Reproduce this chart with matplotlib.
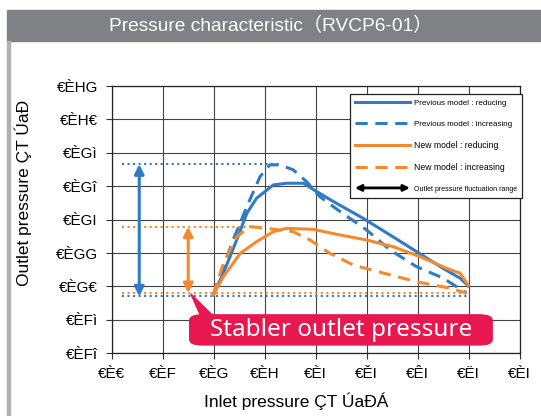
import matplotlib
matplotlib.use('Agg')
import matplotlib.pyplot as plt
from matplotlib.patches import FancyBboxPatch, Rectangle, Polygon, FancyArrowPatch
from matplotlib.lines import Line2D
from matplotlib.legend_handler import HandlerBase

plt.rcParams['font.family'] = ['Liberation Sans', 'DejaVu Sans']

BLUE = '#2f7bc4'
ORANGE = '#f48a2e'
PINK = '#e8174f'

# tick labels (as printed in the source, garbled encoding kept)
x_labels = ['€È€', '€ÈF', '€ÈG', '€ÈH', '€ÈI', '€ĚI', '€ÊI', '€ËI', '€ÈI']
y_labels = ['€ÈFî', '€ÈFì', '€ÈG€', '€ÈGG', '€ÈGI', '€ÈGî', '€ÈGì', '€ÈH€', '€ÈHG']

# curves, in grid units
prev_red_x = [1.99, 2.19, 2.45, 2.65, 2.84, 3.17, 3.43, 3.76, 4.02, 4.35, 4.93, 5.46, 5.98, 6.50, 6.83, 6.99]
prev_red_y = [1.75, 2.40, 3.39, 4.19, 4.64, 5.04, 5.09, 5.09, 4.84, 4.54, 4.04, 3.54, 3.04, 2.54, 2.25, 2.02]

prev_inc_x = [1.99, 2.12, 2.38, 2.65, 2.91, 3.10, 3.30, 3.56, 3.82, 4.08, 4.48, 5.00, 5.46, 5.98, 6.50, 6.96]
prev_inc_y = [1.75, 2.29, 3.39, 4.39, 5.29, 5.64, 5.64, 5.49, 5.14, 4.69, 4.24, 3.69, 3.09, 2.59, 2.25, 1.80]

new_red_x = [1.99, 2.19, 2.52, 2.84, 3.17, 3.43, 3.95, 4.48, 5.00, 5.52, 6.05, 6.57, 6.83, 6.99]
new_red_y = [1.75, 2.29, 2.99, 3.34, 3.64, 3.74, 3.71, 3.54, 3.39, 3.19, 2.89, 2.54, 2.40, 2.04]

new_inc_x = [1.99, 2.19, 2.45, 2.71, 3.04, 3.56, 3.89, 4.28, 4.74, 5.33, 5.98, 6.63, 6.96]
new_inc_y = [1.75, 2.69, 3.49, 3.79, 3.74, 3.64, 3.39, 2.99, 2.64, 2.40, 2.14, 1.95, 1.80]

# fluctuation ranges
prev_max, prev_min = 5.66, 1.70
new_max, new_min = 3.79, 1.80


class ArrowHandler(HandlerBase):
    def create_artists(self, legend, orig_handle, xdescent, ydescent, width, height, fontsize, trans):
        y = height / 2 - ydescent
        p = FancyArrowPatch((-xdescent, y), (width - xdescent, y), arrowstyle='<|-|>',
                            mutation_scale=9, lw=2, color='black', shrinkA=0, shrinkB=0,
                            transform=trans)
        return [p]


fig = plt.figure(figsize=(5.41, 4.16), dpi=100)

# header bar and left border
fig.patches.append(Rectangle((7 / 541, 1 - 41 / 416), 534 / 541, 31 / 416,
                             transform=fig.transFigure, color='#808184', zorder=0))
fig.patches.append(Rectangle((7 / 541, 0), 2.5 / 541, 1 - 41 / 416,
                             transform=fig.transFigure, color='#b0b0b0', zorder=0))
fig.text(0.5, 1 - 26 / 416, 'Pressure characteristic（RVCP6-01）', color='white',
         fontsize=13.8, ha='center', va='center',
         family=['Liberation Sans', 'Noto Sans CJK JP'])

ax = fig.add_axes([111.7 / 541, 62.7 / 416, 408 / 541, 267.3 / 416])
ax.set_xlim(0, 8)
ax.set_ylim(0, 8)
ax.set_xticks(range(9))
ax.set_yticks(range(9))
ax.set_xticklabels(x_labels, fontsize=11)
ax.set_yticklabels(y_labels, fontsize=11)
ax.tick_params(direction='out', length=4, width=0.8, color='#333333', pad=6)
ax.grid(True, color='#444444', linewidth=0.8)
for s in ax.spines.values():
    s.set_color('#222222')
    s.set_linewidth(0.9)

ax.set_xlabel('Inlet pressure ÇT ÚaÐÁ', fontsize=12.5)
ax.set_ylabel('Outlet pressure ÇT ÚaÐ', fontsize=12.5)
ax.xaxis.set_label_coords(0.452, -0.145)
ax.yaxis.set_label_coords(-0.196, 0.6)

# dotted reference lines
ax.plot([0.2, 3.3], [prev_max, prev_max], ':', color=BLUE, lw=1.5)
ax.plot([0.2, 7.0], [prev_min, prev_min], ':', color=BLUE, lw=1.5)
ax.plot([0.2, 2.75], [new_max, new_max], ':', color=ORANGE, lw=1.5)
ax.plot([0.2, 7.0], [new_min, new_min], ':', color=ORANGE, lw=1.5)

# range arrows
ax.annotate('', xy=(0.54, prev_min), xytext=(0.54, prev_max),
            arrowprops=dict(arrowstyle='<|-|>', color=BLUE, lw=2.2, mutation_scale=14,
                            shrinkA=0, shrinkB=0))
ax.annotate('', xy=(1.5, new_min), xytext=(1.5, new_max),
            arrowprops=dict(arrowstyle='<|-|>', color=ORANGE, lw=2.2, mutation_scale=14,
                            shrinkA=0, shrinkB=0))

ax.plot(prev_red_x, prev_red_y, '-', color=BLUE, lw=2.2)
ax.plot(prev_inc_x, prev_inc_y, '--', color=BLUE, lw=2.2, dashes=(4, 2.5))
ax.plot(new_red_x, new_red_y, '-', color=ORANGE, lw=2.2)
ax.plot(new_inc_x, new_inc_y, '--', color=ORANGE, lw=2.2, dashes=(4, 2.5))

# legend
arrow_handle = FancyArrowPatch((0, 0), (1, 0))
handles = [
    Line2D([], [], color=BLUE, lw=2.2),
    Line2D([], [], color=BLUE, lw=2.2, ls='--', dashes=(4, 2.5)),
    Line2D([], [], color=ORANGE, lw=2.2),
    Line2D([], [], color=ORANGE, lw=2.2, ls='--', dashes=(4, 2.5)),
    arrow_handle,
]
names = ['Previous model : reducing', 'Previous model : increasing', 'New model : reducing',
         'New model : increasing', 'Outlet pressure fluctuation range']
leg = ax.legend(handles, names, loc='upper right', bbox_to_anchor=(1.006, 0.97),
                handler_map={FancyArrowPatch: ArrowHandler()},
                prop={'size': 6.2},
                frameon=True, fancybox=False, edgecolor='#222222', framealpha=1,
                handlelength=6.4, borderpad=0.6, labelspacing=1.5, handletextpad=0.45,
                borderaxespad=0)
leg.get_frame().set_linewidth(0.9)
leg.get_texts()[0].set_fontsize(5.8)
leg.get_texts()[1].set_fontsize(5.8)
leg.get_texts()[4].set_fontsize(5.0)

# callout
ax.add_patch(Polygon([[1.55, 1.78], [1.75, 1.1], [2.0, 1.1]], closed=True,
                     color=PINK, zorder=5, clip_on=False))
ax.add_patch(FancyBboxPatch((1.53, 0.25), 5.93, 0.9,
                            boxstyle='round,pad=0,rounding_size=0.25',
                            color=PINK, zorder=5, clip_on=False, mutation_aspect=0.65))
ax.text(4.495, 0.69, 'Stabler outlet pressure', color='white', fontsize=17.5,
        ha='center', va='center', zorder=6, family=['Noto Sans', 'DejaVu Sans'],
        fontweight='semibold')

fig.savefig('out.png', dpi=100)
